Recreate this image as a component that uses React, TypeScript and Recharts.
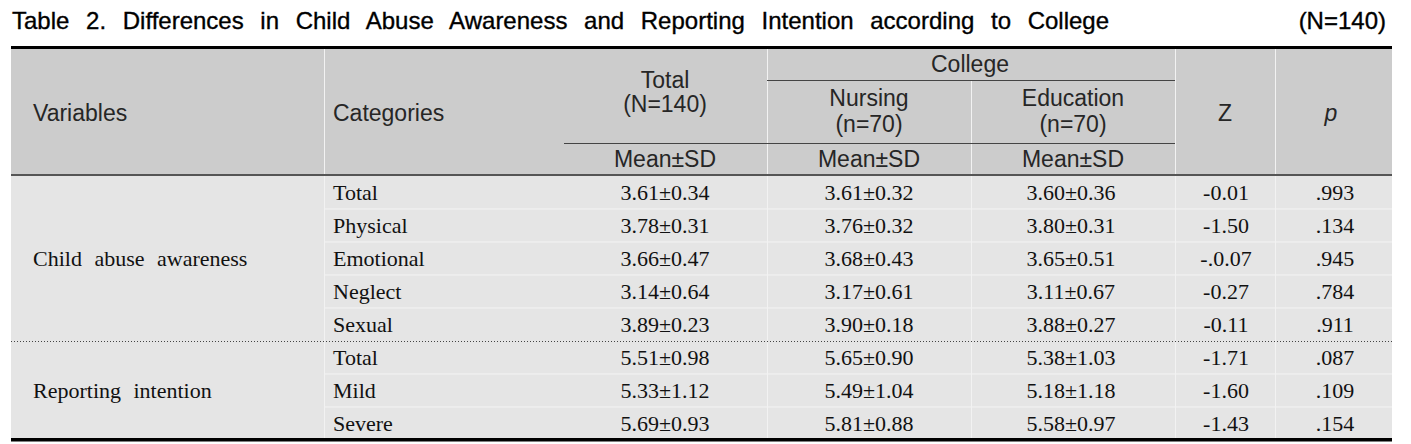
import React from "react";
import { ComposedChart, XAxis, YAxis } from "recharts";

// ---- data ----
const variables = ["Child abuse awareness", "Reporting intention"];
const rowGroup = [0, 0, 0, 0, 0, 1, 1, 1];
const categories = ["Total", "Physical", "Emotional", "Neglect", "Sexual", "Total", "Mild", "Severe"];
const totalMean = [3.61, 3.78, 3.66, 3.14, 3.89, 5.51, 5.33, 5.69];
const totalSd = [0.34, 0.31, 0.47, 0.64, 0.23, 0.98, 1.12, 0.93];
const nursingMean = [3.61, 3.76, 3.68, 3.17, 3.9, 5.65, 5.49, 5.81];
const nursingSd = [0.32, 0.32, 0.43, 0.61, 0.18, 0.9, 1.04, 0.88];
const educationMean = [3.6, 3.8, 3.65, 3.11, 3.88, 5.38, 5.18, 5.58];
const educationSd = [0.36, 0.31, 0.51, 0.67, 0.27, 1.03, 1.18, 0.97];
const zValues = ["-0.01", "-1.50", "-.0.07", "-0.27", "-0.11", "-1.71", "-1.60", "-1.43"];
const pValues = [".993", ".134", ".945", ".784", ".911", ".087", ".109", ".154"];

const titleText = "Table 2. Differences in Child Abuse Awareness and Reporting Intention according to College";
const titleN = "(N=140)";
const headVariables = "Variables";
const headCategories = "Categories";
const headTotal = ["Total", "(N=140)"];
const headCollege = "College";
const headNursing = ["Nursing", "(n=70)"];
const headEducation = ["Education", "(n=70)"];
const headStat = "Mean±SD";
const headZ = "Z";
const headP = "p";

const rows = categories.map((c, i) => ({
  key: `${rowGroup[i]}:${c}`,
  category: c,
  total: `${totalMean[i].toFixed(2)}±${totalSd[i].toFixed(2)}`,
  nursing: `${nursingMean[i].toFixed(2)}±${nursingSd[i].toFixed(2)}`,
  education: `${educationMean[i].toFixed(2)}±${educationSd[i].toFixed(2)}`,
  z: zValues[i],
  p: pValues[i],
}));

// ---- layout (styles / positions) ----
const W = 1411;
const H = 444;
const L = 11;
const R = 1392;
const colX = { variables: 33, categories: 333, total: 665, nursing: 869, education: 1071, z: 1226, p: 1335 };
const vLines = [324, 767, 971, 1175, 1275];
const BODY_TOP = 176;
const BODY_BOTTOM = 440;
const ROW_H = (BODY_BOTTOM - BODY_TOP) / rows.length;
const SANS = "'Liberation Sans', Arial, sans-serif";
const SERIF = "'Liberation Serif', 'Times New Roman', serif";

function groupMiddle(g: number) {
  const idx = rowGroup.map((v, i) => (v === g ? i : -1)).filter((i) => i >= 0);
  return idx[Math.floor(idx.length / 2)];
}

const RowTick = (props: any) => {
  const { y, payload } = props;
  const i = payload.index;
  const r = rows[i];
  const by = y + 7.5;
  const common = { fontFamily: SERIF, fontSize: 22, fill: "#111" } as any;
  const g = rowGroup[i];
  return (
    <g>
      {groupMiddle(g) === i && (
        <text x={colX.variables} y={by} {...common} style={{ wordSpacing: 7 }}>
          {variables[g]}
        </text>
      )}
      <text x={colX.categories} y={by} {...common}>{r.category}</text>
      <text x={colX.total} y={by} textAnchor="middle" {...common}>{r.total}</text>
      <text x={colX.nursing} y={by} textAnchor="middle" {...common}>{r.nursing}</text>
      <text x={colX.education} y={by} textAnchor="middle" {...common}>{r.education}</text>
      <text x={colX.z} y={by} textAnchor="middle" {...common}>{r.z}</text>
      <text x={colX.p} y={by} textAnchor="middle" {...common}>{r.p}</text>
    </g>
  );
};

const Background = () => {
  const hs = { fontFamily: SANS, fontSize: 23, fill: "#262626" } as any;
  const sepYs = rows.slice(1).map((_, i) => BODY_TOP + ROW_H * (i + 1));
  return (
    <svg width={W} height={H} style={{ position: "absolute", left: 0, top: 0 }}>
      <rect x={0} y={0} width={W} height={H} fill="#fff" />
      <text x={12} y={29} fontFamily={SANS} fontSize={24} fill="#000" stroke="#000" strokeWidth={0.35} style={{ wordSpacing: 10 }}>
        {titleText}
      </text>
      <text x={1386} y={29} textAnchor="end" fontFamily={SANS} fontSize={24} fill="#000" stroke="#000" strokeWidth={0.35}>
        {titleN}
      </text>
      {/* header bg */}
      <rect x={L} y={48} width={R - L} height={127} fill="#cccccc" />
      {/* body bg */}
      <rect x={L} y={BODY_TOP} width={R - L} height={BODY_BOTTOM - BODY_TOP - 2} fill="#e5e5e5" />
      {/* row separators */}
      {sepYs.map((y, i) =>
        i === 4 ? null : <line key={i} x1={324} x2={R} y1={y} y2={y} stroke="#f4f4f4" strokeWidth={1} />
      )}
      {/* vertical white lines */}
      {vLines.map((x) => (
        <line key={x} x1={x + 0.5} x2={x + 0.5} y1={x === 971 ? 80 : 49} y2={438} stroke="#f2f2f2" strokeWidth={1} />
      ))}
      {/* header sub lines */}
      <line x1={767} x2={1175} y1={80.5} y2={80.5} stroke="#444" strokeWidth={1} />
      <line x1={564} x2={1175} y1={143.5} y2={143.5} stroke="#444" strokeWidth={1} />
      <line x1={L} x2={R} y1={175} y2={175} stroke="#555" strokeWidth={2} />
      {/* dotted separator */}
      <line x1={L} x2={R} y1={BODY_TOP + ROW_H * 5 + 0.5} y2={BODY_TOP + ROW_H * 5 + 0.5} stroke="#444" strokeWidth={1} strokeDasharray="1 2" />
      {/* top & bottom rules */}
      <rect x={L} y={46} width={R - L} height={3} fill="#000" />
      <rect x={L} y={438} width={R - L} height={3.5} fill="#000" />
      {/* header texts */}
      <text x={colX.variables} y={120.5} {...hs}>{headVariables}</text>
      <text x={colX.categories} y={120.5} {...hs}>{headCategories}</text>
      <text x={665} y={88} textAnchor="middle" {...hs}>{headTotal[0]}</text>
      <text x={665} y={112} textAnchor="middle" {...hs}>{headTotal[1]}</text>
      <text x={970} y={72} textAnchor="middle" {...hs}>{headCollege}</text>
      <text x={869} y={106} textAnchor="middle" {...hs}>{headNursing[0]}</text>
      <text x={869} y={132} textAnchor="middle" {...hs}>{headNursing[1]}</text>
      <text x={1073} y={106} textAnchor="middle" {...hs}>{headEducation[0]}</text>
      <text x={1073} y={132} textAnchor="middle" {...hs}>{headEducation[1]}</text>
      <text x={1225} y={120.5} textAnchor="middle" {...hs}>{headZ}</text>
      <text x={1331} y={120.5} textAnchor="middle" {...hs} fontStyle="italic">{headP}</text>
      {[665, 869, 1073].map((x) => (
        <text key={x} x={x} y={166.5} textAnchor="middle" {...hs}>{headStat}</text>
      ))}
    </svg>
  );
};

export default function App() {
  return (
    <div style={{ position: "absolute", left: 0, top: 0, width: W, height: H }}>
      <Background />
      <div style={{ position: "absolute", left: 0, top: 0 }}>
        <ComposedChart
          width={W}
          height={H}
          layout="vertical"
          data={rows}
          margin={{ top: BODY_TOP, bottom: H - BODY_BOTTOM, left: 0, right: 0 }}
        >
          <XAxis type="number" hide domain={[0, 1]} />
          <YAxis
            type="category"
            dataKey="key"
            scale="band"
            width={1}
            axisLine={false}
            tickLine={false}
            interval={0}
            tick={<RowTick />}
          />
        </ComposedChart>
      </div>
    </div>
  );
}
